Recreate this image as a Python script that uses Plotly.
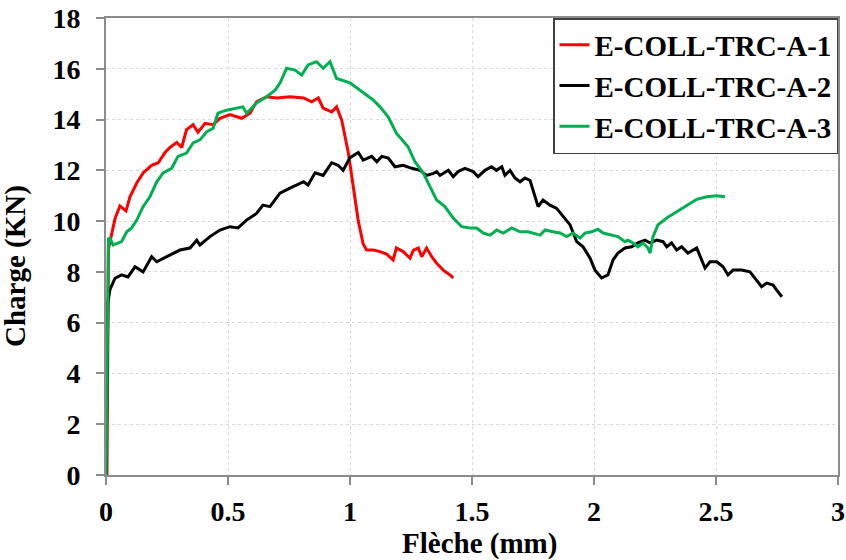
import plotly.graph_objects as go

# ---- data ----
a1_x = [0.004, 0.007, 0.010, 0.037, 0.057, 0.082, 0.098, 0.126, 0.152, 0.187, 0.214, 0.242, 0.262, 0.290,
        0.310, 0.330, 0.357, 0.377, 0.406, 0.439, 0.467, 0.508, 0.556, 0.590, 0.617, 0.658, 0.700, 0.754,
        0.810, 0.843, 0.870, 0.890, 0.925, 0.945, 0.966, 0.993, 1.013, 1.034, 1.054, 1.068, 1.095, 1.123,
        1.150, 1.177, 1.190, 1.218, 1.246, 1.260, 1.280, 1.294, 1.314, 1.335, 1.355, 1.382, 1.410, 1.423]
a1_y = [0.0, 4.0, 8.9, 10.1, 10.6, 10.4, 10.95, 11.5, 11.9, 12.2, 12.3, 12.7, 12.9, 13.1,
        12.9, 13.6, 13.8, 13.5, 13.85, 13.8, 14.05, 14.2, 14.05, 14.25, 14.7, 14.9, 14.85, 14.9,
        14.85, 14.7, 14.85, 14.45, 14.3, 14.5, 13.98, 12.7, 11.35, 10.0, 9.1, 8.86, 8.86, 8.8,
        8.7, 8.47, 8.94, 8.8, 8.54, 8.86, 8.94, 8.6, 8.94, 8.6, 8.34, 8.07, 7.88, 7.76]

a2_x = [0.0, 0.004, 0.008, 0.016, 0.037, 0.064, 0.090, 0.119, 0.152, 0.187, 0.208, 0.249, 0.303, 0.344,
        0.372, 0.385, 0.426, 0.467, 0.508, 0.541, 0.576, 0.617, 0.643, 0.672, 0.713, 0.754, 0.810, 0.828,
        0.857, 0.890, 0.925, 0.951, 0.972, 1.000, 1.034, 1.054, 1.089, 1.110, 1.130, 1.157, 1.184, 1.218,
        1.253, 1.287, 1.314, 1.342, 1.355, 1.369, 1.403, 1.423, 1.443, 1.471, 1.505, 1.525, 1.553, 1.580,
        1.600, 1.622, 1.635, 1.656, 1.676, 1.697, 1.717, 1.738, 1.758, 1.771, 1.791, 1.820, 1.847, 1.867,
        1.902, 1.929, 1.955, 1.984, 2.004, 2.031, 2.057, 2.078, 2.098, 2.127, 2.154, 2.180, 2.209, 2.230,
        2.257, 2.283, 2.298, 2.318, 2.339, 2.359, 2.385, 2.421, 2.455, 2.475, 2.503, 2.529, 2.549, 2.570,
        2.605, 2.639, 2.666, 2.687, 2.708, 2.734, 2.748, 2.770]
a2_y = [0.0, 4.0, 6.8, 7.3, 7.75, 7.88, 7.8, 8.2, 8.0, 8.6, 8.4, 8.6, 8.86, 8.94,
        9.25, 9.06, 9.39, 9.65, 9.78, 9.73, 10.04, 10.3, 10.63, 10.57, 11.1, 11.3, 11.55, 11.42,
        11.9, 11.8, 12.3, 12.2, 12.0, 12.5, 12.7, 12.4, 12.55, 12.34, 12.55, 12.48, 12.14, 12.2,
        12.08, 12.0, 11.8, 11.88, 11.95, 11.8, 12.0, 11.75, 11.95, 12.08, 11.95, 11.75, 12.0, 12.14,
        12.0, 12.14, 11.8, 12.0, 11.7, 11.55, 11.7, 11.6, 10.96, 10.57, 10.83, 10.63, 10.5, 10.25,
        9.85, 9.19, 8.99, 8.54, 8.07, 7.76, 7.88, 8.47, 8.74, 8.94, 8.99, 9.14, 9.25, 9.14,
        9.25, 9.19, 8.99, 9.14, 8.86, 8.99, 8.74, 8.94, 8.15, 8.4, 8.4, 8.2, 7.88, 8.07,
        8.07, 8.0, 7.68, 7.42, 7.56, 7.48, 7.29, 7.02]

a3_x = [0.0, 0.010, 0.016, 0.029, 0.064, 0.085, 0.105, 0.126, 0.152, 0.180, 0.208, 0.234, 0.269, 0.295,
        0.330, 0.357, 0.385, 0.413, 0.439, 0.459, 0.494, 0.536, 0.561, 0.576, 0.617, 0.658, 0.693, 0.713,
        0.740, 0.775, 0.802, 0.828, 0.863, 0.890, 0.918, 0.945, 1.000, 1.095, 1.123, 1.157, 1.190, 1.238,
        1.266, 1.300, 1.328, 1.355, 1.389, 1.423, 1.458, 1.492, 1.519, 1.546, 1.574, 1.601, 1.628, 1.663,
        1.697, 1.730, 1.779, 1.800, 1.832, 1.861, 1.888, 1.914, 1.943, 1.963, 1.990, 2.016, 2.037, 2.066,
        2.098, 2.127, 2.139, 2.160, 2.180, 2.201, 2.221, 2.230, 2.242, 2.262, 2.298, 2.339, 2.380, 2.421,
        2.462, 2.503, 2.537]
a3_y = [0.0, 9.3, 9.33, 9.06, 9.19, 9.58, 9.73, 10.04, 10.57, 10.96, 11.55, 11.9, 12.08, 12.55,
        12.68, 13.08, 13.2, 13.52, 13.66, 14.25, 14.37, 14.45, 14.5, 14.25, 14.65, 14.9, 15.16, 15.44,
        16.02, 15.95, 15.75, 16.15, 16.28, 16.02, 16.28, 15.62, 15.45, 14.77, 14.5, 14.1, 13.46, 12.93,
        12.34, 11.9, 11.35, 10.83, 10.57, 10.12, 9.78, 9.73, 9.73, 9.53, 9.45, 9.65, 9.53, 9.73,
        9.58, 9.58, 9.45, 9.65, 9.58, 9.53, 9.39, 9.53, 9.33, 9.53, 9.58, 9.68, 9.53, 9.45,
        9.39, 9.19, 9.25, 9.14, 8.99, 9.14, 8.94, 8.74, 9.39, 9.85, 10.12, 10.37, 10.63, 10.86,
        10.96, 11.0, 10.96]

names = ["E-COLL-TRC-A-1", "E-COLL-TRC-A-2", "E-COLL-TRC-A-3"]
colors = ["#ff0000", "#000000", "#00b050"]
x_ticks = [0, 0.5, 1, 1.5, 2, 2.5, 3]
x_tick_text = ["0", "0.5", "1", "1.5", "2", "2.5", "3"]
y_ticks = list(range(0, 19, 2))

FONT = "Liberation Serif, Times New Roman, serif"

fig = go.Figure()
for xs, ys, nm, col in zip([a1_x, a2_x, a3_x], [a1_y, a2_y, a3_y], names, colors):
    fig.add_trace(go.Scatter(x=xs, y=ys, mode="lines", name=nm,
                             line=dict(color=col, width=3)))

axis_common = dict(
    automargin=False,
    showline=True, linecolor="#8c8c8c", linewidth=2, mirror=True,
    showgrid=True, gridcolor="#d9d9d9", griddash="dot", gridwidth=1,
    zeroline=False, ticks="outside", ticklen=8, tickcolor="#8c8c8c", tickwidth=1.5,
    tickfont=dict(family=FONT, size=28, color="black", weight="bold"),
)

fig.update_xaxes(range=[0, 3], tickvals=x_ticks, ticktext=x_tick_text,
                 ticklabelstandoff=2, **axis_common)
fig.update_yaxes(range=[0, 18], tickvals=y_ticks, ticklabelstandoff=10, **axis_common)

fig.update_layout(
    width=846, height=560,
    margin=dict(l=106, r=8, t=18, b=85, autoexpand=False),
    plot_bgcolor="white", paper_bgcolor="white",
    font=dict(family=FONT, color="black"),
    legend=dict(x=1, y=1, xanchor="right", yanchor="top",
                bgcolor="white", bordercolor="#404040", borderwidth=1.5,
                font=dict(family=FONT, size=29, color="black", weight="bold"),
                itemwidth=30, tracegroupgap=0),
    annotations=[
        dict(text="Flèche (mm)", x=0.5, y=0, xref="paper", yref="paper",
             xanchor="center", yanchor="top", yshift=-50, xshift=7, showarrow=False,
             font=dict(family=FONT, size=29, color="black", weight="bold")),
        dict(text="Charge (KN)", x=0, y=0.5, xref="paper", yref="paper",
             xanchor="right", yanchor="middle", xshift=-72, yshift=-20, textangle=-90,
             showarrow=False,
             font=dict(family=FONT, size=29, color="black", weight="bold")),
    ],
)

fig.write_html("out.html", config={"displayModeBar": False},
               post_script="document.body.style.margin='0';document.body.style.padding='0';")
